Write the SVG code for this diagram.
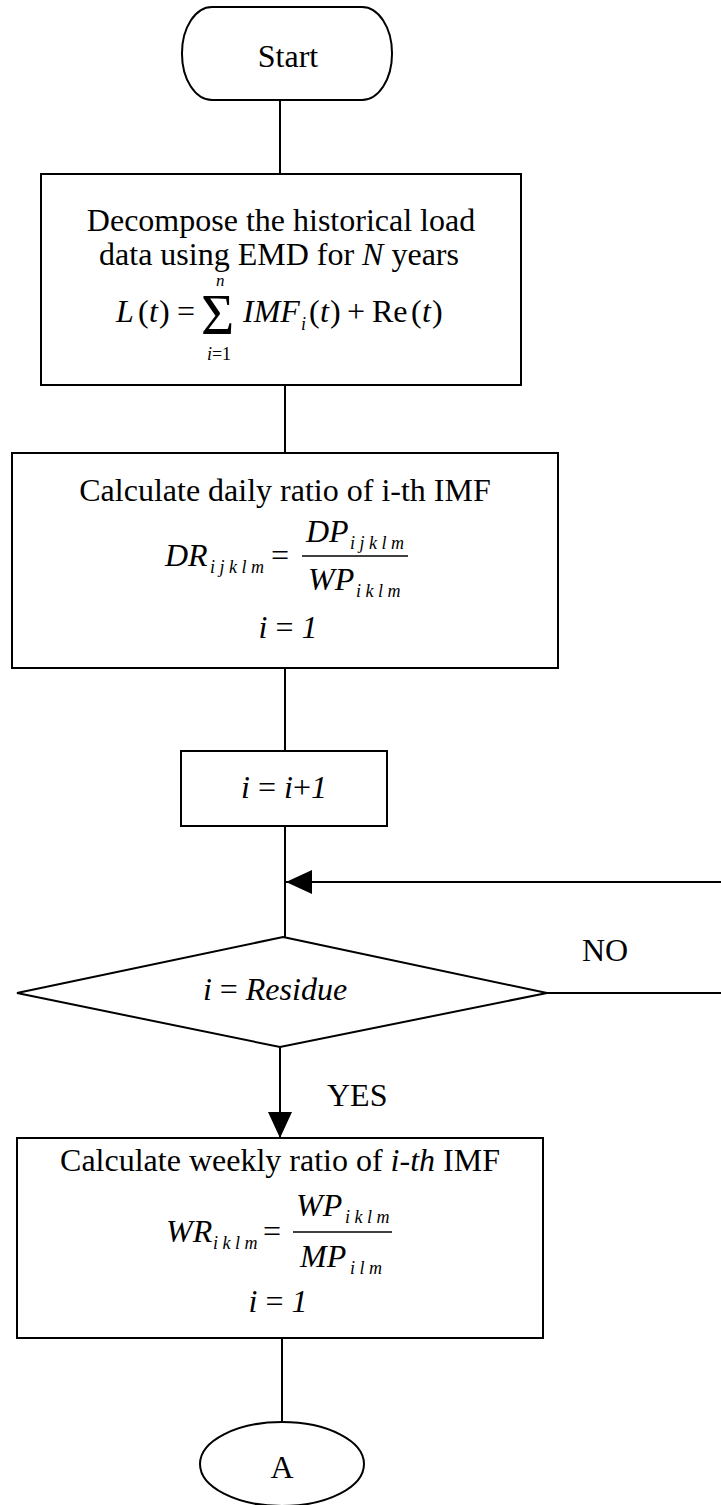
<svg xmlns="http://www.w3.org/2000/svg" width="721" height="1505" viewBox="0 0 721 1505">
<style>
.s{fill:none;stroke:#000;stroke-width:2}
.w{fill:#fff;stroke:#000;stroke-width:2}
text{font-family:"Liberation Serif","Times New Roman",serif;fill:#000}
.t{font-size:32px}
.m{font-size:32px;font-style:italic}
.sub{font-size:18px;font-style:italic}
.up{font-style:normal}
.it{font-style:italic}
</style>
<defs>
<marker id="ah" markerWidth="26" markerHeight="24" refX="26" refY="12" orient="auto" markerUnits="userSpaceOnUse">
<path d="M0,0 L26,12 L0,24 Z" fill="#000"/>
</marker>
</defs>
<g id="connectors">
<line class="s" x1="280" y1="100" x2="280" y2="174"/>
<line class="s" x1="285" y1="385" x2="285" y2="453"/>
<line class="s" x1="285" y1="668" x2="285" y2="751"/>
<line class="s" x1="285" y1="826" x2="285" y2="937"/>
<line class="s" x1="721" y1="882" x2="286" y2="882" marker-end="url(#ah)"/>
<line class="s" x1="547" y1="993" x2="721" y2="993"/>
<line class="s" x1="280" y1="1047" x2="280" y2="1138" marker-end="url(#ah)"/>
<line class="s" x1="282" y1="1338" x2="282" y2="1421"/>
<text class="t" x="582" y="961">NO</text>
<text class="t" x="327" y="1106">YES</text>
</g>
<g id="start">
<rect class="w" x="182" y="7" width="210" height="93" rx="30" ry="46"/>
<text class="t" x="288" y="67" text-anchor="middle">Start</text>
</g>
<g id="decompose">
<rect class="w" x="41" y="174" width="480" height="211"/>
<text class="t" x="281" y="231" text-anchor="middle">Decompose the historical load</text>
<text class="t" x="279" y="265" text-anchor="middle">data using EMD for <tspan class="it">N</tspan> years</text>
<text class="m" x="116" y="322">L</text>
<text class="t" x="138" y="322">(</text>
<text class="m" x="149" y="322">t</text>
<text class="t" x="159" y="322">)</text>
<text class="t" x="177" y="322">=</text>
<text x="201" y="334" style="font-size:57px">Σ</text>
<text class="sub" x="216" y="286" style="font-size:17px">n</text>
<text class="sub" x="219" y="360" text-anchor="middle">i<tspan class="up">=1</tspan></text>
<text class="m" x="243" y="322">IMF</text>
<text class="sub" x="301" y="330">i</text>
<text class="t" x="309" y="322">(</text>
<text class="m" x="320" y="322">t</text>
<text class="t" x="330" y="322">)</text>
<text class="t" x="347" y="322">+</text>
<text class="t" x="372" y="322">Re</text>
<text class="t" x="411" y="322">(</text>
<text class="m" x="422" y="322">t</text>
<text class="t" x="432" y="322">)</text>
</g>
<g id="daily">
<rect class="w" x="12" y="453" width="546" height="215"/>
<text class="t" x="285" y="501" text-anchor="middle">Calculate daily ratio of i-th IMF</text>
<text class="m" x="165" y="566">DR</text>
<text class="sub" x="210" y="573">i j k l m</text>
<text class="t" x="271" y="566">=</text>
<line class="s" x1="302" y1="556" x2="408" y2="556" style="stroke-width:1.5"/>
<text class="m" x="306" y="542">DP</text>
<text class="sub" x="350" y="549">i j k l m</text>
<text class="m" x="308" y="590">WP</text>
<text class="sub" x="356" y="597">i k l m</text>
<text class="m" x="288" y="638" text-anchor="middle">i <tspan class="up">=</tspan> 1</text>
</g>
<g id="increment">
<rect class="w" x="181" y="751" width="206" height="75"/>
<text class="m" x="284" y="798" text-anchor="middle">i <tspan class="up">=</tspan> i<tspan class="up">+</tspan>1</text>
</g>
<g id="decision">
<polygon class="w" points="283,937 547,993 280,1047 17,993"/>
<text class="m" x="275" y="1000" text-anchor="middle">i <tspan class="up">=</tspan> Residue</text>
</g>
<g id="weekly">
<rect class="w" x="17" y="1138" width="526" height="200"/>
<text class="t" x="280" y="1171" text-anchor="middle">Calculate weekly ratio of <tspan class="it">i-th</tspan> IMF</text>
<text class="m" x="166" y="1242">WR</text>
<text class="sub" x="213" y="1249">i k l m</text>
<text class="t" x="263" y="1242">=</text>
<line class="s" x1="293" y1="1232" x2="392" y2="1232" style="stroke-width:1.5"/>
<text class="m" x="296" y="1216">WP</text>
<text class="sub" x="345" y="1223">i k l m</text>
<text class="m" x="300" y="1267">MP</text>
<text class="sub" x="350" y="1274">i l m</text>
<text class="m" x="278" y="1312" text-anchor="middle">i <tspan class="up">=</tspan> 1</text>
</g>
<g id="connector-a">
<ellipse class="w" cx="282" cy="1464" rx="82" ry="42"/>
<text class="t" x="282" y="1478" text-anchor="middle">A</text>
</g>
</svg>
